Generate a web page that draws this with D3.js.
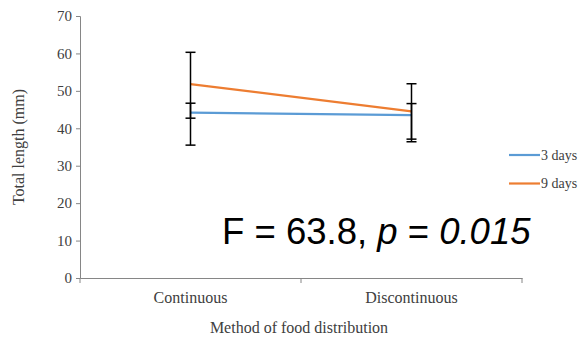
<!DOCTYPE html>
<html>
<head>
<meta charset="utf-8">
<script src="https://cdn.jsdelivr.net/npm/d3@7"></script>
<style>
    body { margin: 0; background: white; }
    svg { display: block; }
</style>
</head>
<body>
<svg id="chart"></svg>
<script>
'use strict';

const categories = ['Continuous', 'Discontinuous'];
const seriesNames = ['3 days', '9 days'];
const threeDays = [44.2, 43.5];
const threeDaysLow = [35.5, 36.4];
const threeDaysHigh = [46.7, 46.6];
const nineDays = [51.8, 44.5];
const nineDaysLow = [42.7, 37.1];
const nineDaysHigh = [60.3, 51.9];
const yTicks = [0, 10, 20, 30, 40, 50, 60, 70];

const width = 587;
const height = 340;
const serif = '"Liberation Serif", "Times New Roman", serif';

const series = [
    {name: seriesNames[0], color: '#5b9bd5', values: threeDays, low: threeDaysLow, high: threeDaysHigh},
    {name: seriesNames[1], color: '#ed7d31', values: nineDays, low: nineDaysLow, high: nineDaysHigh},
];

const svg = d3.select('#chart')
    .attr('width', width)
    .attr('height', height);

const x = d3.scaleBand()
    .domain(categories)
    .range([80, 522]);

const y = d3.scaleLinear()
    .domain([0, 70])
    .range([278, 16]);

// y axis
const yAxis = svg.append('g')
    .attr('transform', 'translate(80,0)')
    .call(d3.axisLeft(y).tickValues(yTicks).tickSize(4).tickPadding(4));
yAxis.attr('font-family', null);
yAxis.select('.domain').attr('stroke', '#868686');
yAxis.selectAll('.tick line').attr('stroke', '#868686');
yAxis.selectAll('text')
    .style('font-family', serif)
    .attr('font-size', 15)
    .attr('fill', '#404040');

// x axis
const xAxis = svg.append('g')
    .attr('transform', 'translate(0,278)')
    .call(d3.axisBottom(x).tickSize(0).tickPadding(14));
xAxis.attr('font-family', null);
xAxis.select('.domain').attr('stroke', '#868686');
xAxis.selectAll('text')
    .style('font-family', serif)
    .attr('font-size', 16)
    .attr('fill', '#404040');

// tick marks between categories
xAxis.selectAll('.sep')
    .data([x.range()[0], ...categories.map(c => x(c) + x.bandwidth())])
    .join('line')
    .attr('class', 'sep')
    .attr('x1', d => d)
    .attr('x2', d => d)
    .attr('y1', 0)
    .attr('y2', 5)
    .attr('stroke', '#868686');

// axis titles
svg.append('text')
    .attr('transform', `translate(24,${(y(0) + y(70)) / 2}) rotate(-90)`)
    .attr('text-anchor', 'middle')
    .style('font-family', serif)
    .attr('font-size', 16)
    .attr('fill', '#404040')
    .text('Total length (mm)');

svg.append('text')
    .attr('x', (x.range()[0] + x.range()[1]) / 2 - 2)
    .attr('y', 333)
    .attr('text-anchor', 'middle')
    .style('font-family', serif)
    .attr('font-size', 16)
    .attr('fill', '#404040')
    .text('Method of food distribution');

const cx = c => x(c) + x.bandwidth() / 2;

// lines
const line = d3.line()
    .x((d, i) => cx(categories[i]))
    .y(d => y(d));

svg.append('g')
    .selectAll('path')
    .data(series)
    .join('path')
    .attr('d', s => line(s.values))
    .attr('fill', 'none')
    .attr('stroke', s => s.color)
    .attr('stroke-width', 2.2);

// error bars
const bars = series.flatMap(s => categories.map((c, i) => ({c, low: s.low[i], high: s.high[i]})));
const err = svg.append('g')
    .attr('stroke', 'black')
    .attr('stroke-width', 1.5);

err.selectAll('.stem')
    .data(bars)
    .join('line')
    .attr('x1', d => cx(d.c))
    .attr('x2', d => cx(d.c))
    .attr('y1', d => y(d.low))
    .attr('y2', d => y(d.high));

err.selectAll('.cap')
    .data(bars.flatMap(d => [{c: d.c, v: d.low}, {c: d.c, v: d.high}]))
    .join('line')
    .attr('x1', d => cx(d.c) - 5)
    .attr('x2', d => cx(d.c) + 5)
    .attr('y1', d => y(d.v))
    .attr('y2', d => y(d.v));

// legend
const legend = svg.append('g')
    .selectAll('g')
    .data(series)
    .join('g')
    .attr('transform', (d, i) => `translate(509,${155 + i * 28.5})`);

legend.append('line')
    .attr('x1', 0)
    .attr('x2', 31)
    .attr('stroke', d => d.color)
    .attr('stroke-width', 2.2);

legend.append('text')
    .attr('x', 32)
    .attr('dy', '0.35em')
    .style('font-family', serif)
    .attr('font-size', 14)
    .attr('fill', '#404040')
    .text(d => d.name);

// statistics annotation
const note = svg.append('text')
    .attr('x', 222)
    .attr('y', 243.5)
    .style('font-family', '"Liberation Sans", Arial, sans-serif')
    .attr('font-size', 36.5)
    .attr('fill', 'black');
note.append('tspan').text('F = 63.8, ');
note.append('tspan').attr('font-style', 'italic').text('p');
note.append('tspan').text(' = ');
note.append('tspan').attr('font-style', 'italic').text('0.015');
</script>
</body>
</html>
